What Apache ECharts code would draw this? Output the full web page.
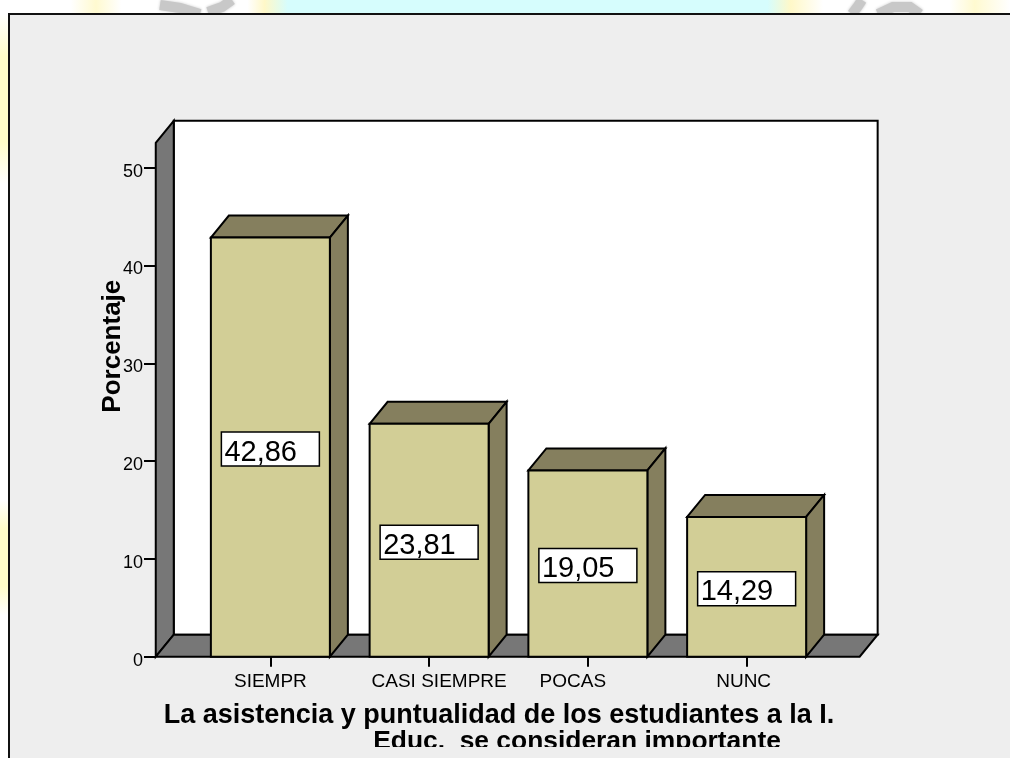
<!DOCTYPE html>
<html>
<head>
<meta charset="utf-8">
<style>
  html, body { margin: 0; padding: 0; background: #fff; }
  #main { width: 1010px; height: 758px; }
</style>
<script src="https://cdn.jsdelivr.net/npm/echarts@6/dist/echarts.min.js"></script>
</head>
<body>
<div id="main"></div>
<script>
  var categories = ['SIEMPR', 'CASI SIEMPRE', 'POCAS', 'NUNC']
  var percentages = [42.86, 23.81, 19.05, 14.29]
  var percentLabels = ['42,86', '23,81', '19,05', '14,29']
  var titleLine1 = 'La asistencia y puntualidad de los estudiantes a la I.'
  var titleLine2 = 'Educ.  se consideran importante'
  var yName = 'Porcentaje'

  var font = '"Liberation Sans", Arial, sans-serif'
  var black = '#000'
  var depthX = 18
  var depthY = 22
  var barWidth = 119

  // walls and floor sit behind the bars
  function renderFrame(params, api) {
    var origin = api.coord([0, 0])
    var top = api.coord([0, 52.55])[1]
    var band = api.size([1, 0])[0]
    var left = origin[0] - band * 0.722
    var right = origin[0] + band * 3.712
    var y0 = origin[1]
    var line = { stroke: black, lineWidth: 2, lineJoin: 'miter' }
    return {
      type: 'group',
      silent: true,
      children: [
        { type: 'rect', shape: { x: left + depthX, y: top - depthY, width: right - left, height: y0 - top },
          style: Object.assign({ fill: '#fff' }, line) },
        { type: 'polygon', shape: { points: [[left, y0], [left + depthX, y0 - depthY], [left + depthX, top - depthY], [left, top]] },
          style: Object.assign({ fill: '#777' }, line) },
        { type: 'polygon', shape: { points: [[left, y0], [left + depthX, y0 - depthY], [right + depthX, y0 - depthY], [right, y0]] },
          style: Object.assign({ fill: '#777' }, line) }
      ]
    }
  }

  function renderBar(params, api) {
    var base = api.coord([api.value(0), 0])
    var head = api.coord([api.value(0), api.value(1)])
    var x1 = base[0] - barWidth / 2
    var x2 = base[0] + barWidth / 2
    var y0 = base[1]
    var y1 = head[1]
    var line = { stroke: black, lineWidth: 2 }
    var midY = (y0 + y1) / 2 + 2
    return {
      type: 'group',
      silent: true,
      children: [
        { type: 'polygon', shape: { points: [[x1, y1], [x1 + depthX, y1 - depthY], [x2 + depthX, y1 - depthY], [x2, y1]] },
          style: Object.assign({ fill: '#857f5e' }, line) },
        { type: 'polygon', shape: { points: [[x2, y1], [x2 + depthX, y1 - depthY], [x2 + depthX, y0 - depthY], [x2, y0]] },
          style: Object.assign({ fill: '#857f5e' }, line) },
        { type: 'rect', shape: { x: x1, y: y1, width: x2 - x1, height: y0 - y1 },
          style: Object.assign({ fill: '#d2ce96' }, line) },
        { type: 'rect', shape: { x: base[0] - 49, y: midY - 17, width: 98, height: 34 },
          style: { fill: '#fff', stroke: black, lineWidth: 1.5 } },
        { type: 'text', style: { x: base[0] - 46, y: midY + 18, text: percentLabels[params.dataIndex],
          font: '29px ' + font, fill: black, textAlign: 'left', textVerticalAlign: 'bottom' } }
      ]
    }
  }

  function swash(points) {
    return { type: 'polyline', z: -4, silent: true, shape: { points: points },
      style: { stroke: '#c8c8c8', lineWidth: 10, fill: null, shadowBlur: 3, shadowColor: '#c8c8c8' } }
  }

  function yellowEdge(y, h) {
    return { type: 'rect', z: -5, silent: true, shape: { x: 0, y: y, width: 8, height: h },
      style: { fill: new echarts.graphic.LinearGradient(0, 0, 0, 1, [
        { offset: 0, color: '#fff' },
        { offset: 0.25, color: '#fffdc8' },
        { offset: 0.75, color: '#fffdc8' },
        { offset: 1, color: '#fff' }
      ]) } }
  }

  // colours of the page photographed behind the chart, left to right
  var pageStrip = new echarts.graphic.LinearGradient(0, 0, 1, 0, [
    { offset: 0, color: '#fff' },
    { offset: 0.07, color: '#fff' },
    { offset: 0.095, color: '#fffad0' },
    { offset: 0.12, color: '#fff' },
    { offset: 0.245, color: '#fff' },
    { offset: 0.262, color: '#fff8c8' },
    { offset: 0.285, color: '#d6fdfd' },
    { offset: 0.76, color: '#d6fdfd' },
    { offset: 0.783, color: '#fff8c8' },
    { offset: 0.815, color: '#fff' },
    { offset: 0.94, color: '#fff' },
    { offset: 0.965, color: '#fffad0' },
    { offset: 1, color: '#fff' }
  ])

  var chart = echarts.init(document.getElementById('main'))
  chart.setOption({
    animation: false,
    backgroundColor: '#fff',
    textStyle: { fontFamily: font },
    title: [
      { text: titleLine1, left: 494, top: 697, textAlign: 'center',
        textStyle: { fontFamily: font, fontSize: 27, fontWeight: 'bold', color: black } },
      { text: titleLine2, left: 572, top: 724, textAlign: 'center',
        textStyle: { fontFamily: font, fontSize: 26.4, fontWeight: 'bold', color: black } }
    ],
    grid: { left: 191, right: 184, top: 167.7, bottom: 101.3 },
    xAxis: {
      type: 'category',
      data: categories,
      axisLine: { show: false },
      axisTick: { show: true, alignWithLabel: true, length: 10, lineStyle: { color: black, width: 2 } },
      axisLabel: {
        margin: 16,
        interval: 0,
        color: black,
        fontFamily: font,
        fontSize: 19,
        formatter: function (value, index) {
          return '{c' + index + '|' + value + '}'
        },
        rich: {
          c0: { padding: [0, 0, 0, 0] },
          c1: { padding: [0, 0, 0, 20] },
          c2: { padding: [0, 30, 0, 0] },
          c3: { padding: [0, 6, 0, 0] }
        }
      }
    },
    yAxis: {
      type: 'value',
      min: 0,
      max: 50,
      interval: 10,
      offset: 35,
      name: yName,
      nameLocation: 'middle',
      nameGap: 30,
      nameMoveOverlap: false,
      nameTextStyle: { fontFamily: font, fontSize: 26, fontWeight: 'bold', color: black, padding: [0, 0, 0, 132] },
      axisLine: { show: false },
      splitLine: { show: false },
      axisTick: { show: true, length: 12, lineStyle: { color: black, width: 2 } },
      axisLabel: {
        margin: 13,
        color: black,
        fontFamily: font,
        fontSize: 18,
        formatter: '{v|{value}}',
        rich: { v: { padding: [8, 0, 0, 0] } }
      }
    },
    series: [
      { type: 'custom', renderItem: renderFrame, data: [[0, 0]], clip: false, z: 1 },
      { type: 'custom', renderItem: renderBar, clip: false, z: 2,
        data: categories.map(function (c, i) { return [i, percentages[i]] }),
        encode: { x: 0, y: 1 } }
    ],
    graphic: [
      { type: 'rect', z: -5, silent: true, shape: { x: 0, y: 0, width: 1010, height: 14 }, style: { fill: pageStrip } },
      swash([[160, 5], [180, 8], [200, 14]]),
      swash([[208, 12], [222, 7], [232, 0]]),
      swash([[852, 14], [858, 6], [862, 0]]),
      swash([[878, 14], [893, 7], [910, 7], [920, 14]]),
      yellowEdge(14, 170),
      yellowEdge(500, 115),
      // grey panel with its border
      { type: 'rect', z: -1, silent: true, shape: { x: 9, y: 14, width: 1010, height: 760 },
        style: { fill: '#eee', stroke: '#111', lineWidth: 2 } },
      // second title line is cut off in the source
      { type: 'rect', z: 100, zlevel: 1, silent: true, shape: { x: 300, y: 747, width: 600, height: 11 }, style: { fill: '#eee' } }
    ]
  })
</script>
</body>
</html>
